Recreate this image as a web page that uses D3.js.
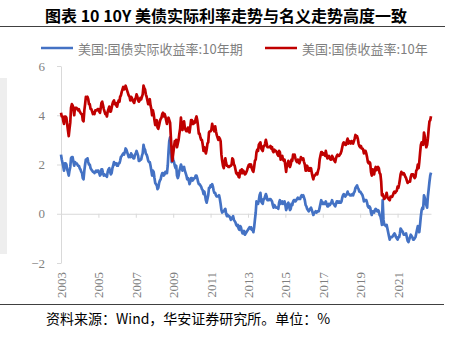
<!DOCTYPE html>
<html>
<head>
<meta charset="utf-8">
<script src="https://cdn.jsdelivr.net/npm/d3@7"></script>
<style>
  html, body { margin: 0; padding: 0; background: #fff; }
  svg { display: block; }
</style>
</head>
<body>
<svg id="chart" width="454" height="340"></svg>
<script>
// US 10Y nominal Treasury yield (%), two readings per month (1st and 16th), Jan 2003 – Oct 2022
const nominal10y = [
  // 2003
  4.10,3.95, 3.95,3.75, 3.65,3.95, 3.95,3.90, 3.65,3.40, 3.15,3.45, 3.70,4.30, 4.45,4.40, 4.25,4.00, 4.30,4.30, 4.30,4.25, 4.20,4.25,
  // 2004
  4.15,4.10, 4.05,4.05, 3.80,3.75, 4.20,4.45, 4.75,4.70, 4.75,4.65, 4.45,4.45, 4.25,4.25, 4.15,4.05, 4.10,4.05, 4.20,4.20, 4.20,4.25,
  // 2005
  4.25,4.15, 4.10,4.30, 4.50,4.55, 4.40,4.25, 4.15,4.05, 4.05,3.95, 4.15,4.25, 4.35,4.15, 4.15,4.30, 4.45,4.55, 4.60,4.45, 4.50,4.40,
  // 2006
  4.35,4.50, 4.60,4.55, 4.75,4.80, 4.95,5.05, 5.15,5.05, 5.10,5.20, 5.10,5.00, 4.90,4.80, 4.75,4.60, 4.75,4.70, 4.60,4.55, 4.50,4.65,
  // 2007
  4.70,4.85, 4.75,4.60, 4.55,4.60, 4.70,4.65, 4.75,4.85, 5.20,5.10, 5.05,4.85, 4.75,4.60, 4.45,4.60, 4.65,4.40, 4.25,4.00, 4.20,4.05,
  // 2008
  3.80,3.60, 3.70,3.80, 3.50,3.45, 3.60,3.75, 3.85,3.90, 4.05,4.10, 3.95,4.05, 3.95,3.80, 3.65,3.80, 3.90,3.80, 3.70,3.10, 2.60,2.15,
  // 2009
  2.45,2.70, 2.95,2.85, 3.00,2.70, 2.85,3.00, 3.25,3.45, 3.90,3.60, 3.40,3.65, 3.75,3.50, 3.40,3.35, 3.35,3.50, 3.40,3.30, 3.55,3.80,
  // 2010
  3.80,3.65, 3.65,3.75, 3.70,3.85, 3.95,3.80, 3.55,3.25, 3.25,3.10, 3.00,3.00, 2.80,2.55, 2.70,2.55, 2.45,2.60, 2.85,2.90, 3.30,3.35,
  // 2011
  3.35,3.40, 3.65,3.50, 3.45,3.35, 3.55,3.35, 3.20,3.10, 3.00,3.10, 3.05,2.95, 2.40,2.15, 1.95,1.85, 2.10,2.25, 2.05,1.95, 1.95,1.90,
  // 2012
  1.90,1.95, 1.95,2.00, 2.25,2.20, 2.00,1.95, 1.80,1.65, 1.60,1.65, 1.50,1.48, 1.75,1.65, 1.80,1.65, 1.75,1.70, 1.60,1.62, 1.70,1.78,
  // 2013
  1.90,1.98, 2.00,1.90, 2.00,1.85, 1.75,1.70, 1.90,2.15, 2.20,2.50, 2.60,2.55, 2.80,2.85, 2.90,2.65, 2.60,2.55, 2.75,2.75, 2.85,3.00,
  // 2014
  2.85,2.70, 2.70,2.70, 2.70,2.75, 2.65,2.70, 2.55,2.50, 2.60,2.55, 2.55,2.50, 2.40,2.35, 2.55,2.50, 2.20,2.30, 2.35,2.20, 2.15,2.20,
  // 2015
  1.95,1.70, 2.00,2.05, 2.15,1.95, 1.90,2.00, 2.20,2.15, 2.40,2.35, 2.40,2.25, 2.15,2.10, 2.20,2.10, 2.05,2.15, 2.30,2.25, 2.20,2.25,
  // 2016
  2.10,2.00, 1.75,1.75, 1.95,1.85, 1.75,1.85, 1.75,1.85, 1.65,1.50, 1.40,1.55, 1.55,1.60, 1.65,1.60, 1.75,1.85, 2.20,2.35, 2.50,2.50,
  // 2017
  2.40,2.45, 2.40,2.35, 2.55,2.40, 2.25,2.30, 2.35,2.25, 2.20,2.20, 2.35,2.30, 2.20,2.15, 2.10,2.25, 2.35,2.40, 2.35,2.35, 2.40,2.45,
  // 2018
  2.55,2.70, 2.85,2.90, 2.85,2.80, 2.80,2.95, 3.05,2.85, 2.95,2.88, 2.85,2.95, 2.90,2.85, 2.95,3.05, 3.20,3.10, 3.15,3.05, 2.85,2.75,
  // 2019
  2.70,2.75, 2.65,2.65, 2.60,2.45, 2.55,2.55, 2.45,2.30, 2.10,2.05, 2.10,2.05, 1.70,1.55, 1.80,1.70, 1.60,1.80, 1.90,1.77, 1.85,1.90,
  // 2020
  1.85,1.65, 1.60,1.30, 0.75,0.80, 0.70,0.60, 0.65,0.68, 0.85,0.68, 0.62,0.58, 0.55,0.70, 0.68,0.68, 0.75,0.85, 0.90,0.85, 0.90,0.93,
  // 2021
  1.10,1.05, 1.20,1.40, 1.60,1.70, 1.65,1.60, 1.65,1.60, 1.50,1.45, 1.35,1.25, 1.30,1.30, 1.30,1.50, 1.60,1.60, 1.60,1.50, 1.45,1.50,
  // 2022 (to mid-October)
  1.75,1.80, 2.00,1.85, 2.10,2.45, 2.80,2.90, 2.90,2.80, 3.30,3.15, 2.95,2.70, 2.80,3.05, 3.45,3.75, 3.80,3.96
];

// US 10Y real (TIPS) yield (%), same dates
const real10y = [
  // 2003
  2.40,2.20, 2.05,1.90, 1.75,2.05, 2.05,2.00, 1.80,1.70, 1.55,1.75, 1.90,2.25, 2.30,2.30, 2.10,1.95, 2.10,2.05, 2.05,2.00, 1.95,1.95,
  // 2004
  1.85,1.80, 1.70,1.65, 1.45,1.40, 1.75,2.00, 2.20,2.15, 2.25,2.10, 2.00,2.00, 1.85,1.80, 1.75,1.70, 1.70,1.65, 1.70,1.75, 1.70,1.75,
  // 2005
  1.75,1.65, 1.55,1.60, 1.80,1.80, 1.65,1.55, 1.60,1.55, 1.55,1.50, 1.70,1.80, 1.85,1.70, 1.60,1.65, 1.85,1.95, 2.10,2.00, 2.05,2.05,
  // 2006
  1.95,1.95, 2.05,2.05, 2.15,2.30, 2.35,2.40, 2.45,2.40, 2.50,2.65, 2.60,2.50, 2.40,2.30, 2.35,2.30, 2.45,2.40, 2.30,2.25, 2.25,2.40,
  // 2007
  2.45,2.55, 2.45,2.35, 2.15,2.15, 2.20,2.20, 2.35,2.45, 2.80,2.65, 2.60,2.45, 2.40,2.30, 2.15,2.10, 2.10,1.95, 1.75,1.55, 1.75,1.70,
  // 2008
  1.45,1.25, 1.20,1.15, 1.00,1.05, 1.25,1.35, 1.40,1.55, 1.65,1.65, 1.55,1.60, 1.70,1.65, 1.65,1.95, 2.50,2.95, 3.10,2.70, 2.10,2.35,
  // 2009
  2.20,2.10, 1.95,1.85, 1.95,1.55, 1.45,1.55, 1.75,1.85, 2.00,1.90, 1.75,1.85, 1.90,1.75, 1.65,1.55, 1.40,1.45, 1.35,1.20, 1.30,1.45,
  // 2010
  1.45,1.35, 1.40,1.45, 1.45,1.55, 1.55,1.45, 1.30,1.20, 1.20,1.15, 1.10,1.00, 0.95,0.80, 0.90,0.75, 0.55,0.45, 0.60,0.75, 1.05,1.05,
  // 2011
  1.15,1.10, 1.20,1.10, 0.95,0.85, 0.85,0.75, 0.70,0.70, 0.70,0.75, 0.60,0.40, 0.15,0.05, 0.10,0.10, 0.15,0.20, 0.00,-0.10, -0.05,-0.10,
  // 2012
  -0.10,-0.15, -0.25,-0.20, -0.15,-0.10, -0.25,-0.30, -0.35,-0.45, -0.50,-0.45, -0.60,-0.65, -0.50,-0.55, -0.70,-0.80, -0.80,-0.70, -0.85,-0.80, -0.75,-0.70,
  // 2013
  -0.65,-0.60, -0.55,-0.60, -0.55,-0.65, -0.65,-0.75, -0.55,-0.25, 0.05,0.50, 0.45,0.40, 0.55,0.75, 0.85,0.50, 0.45,0.40, 0.60,0.60, 0.70,0.80,
  // 2014
  0.70,0.55, 0.55,0.55, 0.60,0.60, 0.55,0.50, 0.35,0.25, 0.35,0.30, 0.25,0.25, 0.25,0.20, 0.45,0.55, 0.40,0.45, 0.50,0.40, 0.45,0.50,
  // 2015
  0.35,0.15, 0.25,0.40, 0.45,0.30, 0.15,0.20, 0.40,0.35, 0.50,0.55, 0.55,0.50, 0.55,0.60, 0.65,0.60, 0.60,0.60, 0.70,0.75, 0.70,0.75,
  // 2016
  0.65,0.55, 0.35,0.30, 0.20,0.15, 0.10,0.15, 0.20,0.25, 0.15,0.05, -0.05,0.05, 0.05,0.10, 0.05,0.10, 0.10,0.10, 0.25,0.40, 0.55,0.45,
  // 2017
  0.40,0.45, 0.40,0.40, 0.50,0.40, 0.30,0.30, 0.40,0.35, 0.40,0.45, 0.55,0.45, 0.40,0.35, 0.30,0.40, 0.50,0.50, 0.45,0.50, 0.45,0.45,
  // 2018
  0.50,0.65, 0.75,0.80, 0.75,0.70, 0.75,0.80, 0.90,0.80, 0.80,0.75, 0.75,0.75, 0.80,0.75, 0.85,0.90, 1.05,1.10, 1.15,1.05, 1.00,0.90,
  // 2019
  0.90,0.85, 0.80,0.75, 0.65,0.50, 0.55,0.55, 0.55,0.45, 0.30,0.25, 0.30,0.25, 0.05,-0.05, 0.10,0.10, 0.05,0.15, 0.20,0.15, 0.10,0.15,
  // 2020
  0.10,-0.05, -0.10,-0.25, -0.45,0.55, -0.25,-0.45, -0.45,-0.50, -0.45,-0.60, -0.75,-0.90, -1.05,-0.95, -0.95,-0.95, -0.90,-0.85, -0.80,-0.85, -0.95,-1.00,
  // 2021
  -1.05,-0.95, -0.95,-0.80, -0.60,-0.65, -0.70,-0.75, -0.85,-0.85, -0.85,-0.80, -0.95,-1.10, -1.15,-1.05, -0.95,-0.85, -0.90,-0.95, -1.05,-1.05, -1.00,-0.95,
  // 2022 (to mid-October)
  -0.80,-0.65, -0.50,-0.55, -0.75,-0.45, -0.10,0.15, 0.25,0.20, 0.75,0.65, 0.50,0.35, 0.25,0.70, 1.00,1.30, 1.55,1.67
];

const seriesNames = ["美国:国债实际收益率:10年期", "美国:国债收益率:10年"];
const seriesColors = ["#4472C4", "#C00000"];
const yTickValues = [-2, 0, 2, 4, 6];
const xTickYears = [2003, 2005, 2007, 2009, 2011, 2013, 2015, 2017, 2019, 2021];
const titleText = "图表 10 10Y 美债实际利率走势与名义走势高度一致";
const sourceText = "资料来源：Wind，华安证券研究所。单位：%";

// Each reading sits on the 1st or 16th of its month
const dateAt = i => new Date(2003 + Math.floor(i / 24), Math.floor(i / 2) % 12, i % 2 ? 16 : 1);

const svg = d3.select("#chart");
const cjk = "'Noto Sans CJK SC', 'Noto Sans', sans-serif";
const serif = "'Liberation Serif', 'DejaVu Serif', serif";

// Title and rule beneath it
svg.append("text")
  .attr("x", 45).attr("y", 15)
  .attr("dominant-baseline", "central")
  .style("font-family", cjk).style("font-weight", 700).style("font-size", "16px")
  .style("fill", "#000")
  .text(titleText);
svg.append("line").attr("x1", 0).attr("x2", 445).attr("y1", 26.5).attr("y2", 26.5)
  .attr("stroke", "#404040").attr("stroke-width", 1);

// Light band on the left edge
svg.append("rect").attr("x", 0).attr("y", 78).attr("width", 7).attr("height", 176).attr("fill", "#eeeeee");

// Scales
const n = real10y.length;
const x = d3.scaleTime().domain([dateAt(0), dateAt(n - 1)]).range([61, 431]);
const y = d3.scaleLinear().domain([-2, 6]).range([263, 66]);

// Y axis
const yAxis = svg.append("g").attr("transform", "translate(61,0)")
  .call(d3.axisLeft(y).tickValues(yTickValues).tickSize(4).tickSizeOuter(0).tickPadding(12).tickFormat(d3.format("d")));
yAxis.select(".domain").attr("stroke", "#d9d9d9");
yAxis.selectAll(".tick line").attr("stroke", "#d9d9d9");
yAxis.selectAll(".tick text").style("font-family", serif).style("font-size", "13px").attr("fill", "#7f7f7f");

// X axis on the zero line, labels rotated at the bottom of the plot
const xAxis = svg.append("g").attr("transform", `translate(0,${y(0)})`)
  .call(d3.axisBottom(x).tickValues(xTickYears.map(yr => new Date(yr, 0, 1))).tickSize(4).tickSizeOuter(0).tickFormat(d3.timeFormat("%Y")));
xAxis.select(".domain").attr("stroke", "#d9d9d9");
xAxis.selectAll(".tick line").attr("stroke", "#d9d9d9");
xAxis.selectAll(".tick text")
  .attr("x", 0).attr("y", 0).attr("dy", "0.35em")
  .attr("transform", `translate(0,${272 - y(0)}) rotate(-90)`)
  .style("text-anchor", "end")
  .style("font-family", serif).style("font-size", "13px").attr("fill", "#7f7f7f");

// Lines
const line = d3.line().x((d, i) => x(dateAt(i))).y(d => y(d));
[real10y, nominal10y].forEach((vals, k) => {
  svg.append("path").datum(vals)
    .attr("d", line)
    .attr("fill", "none")
    .attr("stroke", seriesColors[k])
    .attr("stroke-width", 2.7)
    .attr("stroke-linejoin", "round");
});

// Legend
const legendX = [41, 265];
seriesNames.forEach((name, k) => {
  const g = svg.append("g").attr("transform", `translate(${legendX[k]},48)`);
  g.append("line").attr("x1", 0).attr("x2", 32).attr("y1", 0).attr("y2", 0)
    .attr("stroke", seriesColors[k]).attr("stroke-width", 2.5);
  g.append("text").attr("x", 37).attr("y", 0).attr("dominant-baseline", "central")
    .style("font-family", cjk).style("font-size", "13px").attr("fill", "#7f7f7f")
    .text(name);
});

// Source note and rule above it
svg.append("line").attr("x1", 0).attr("x2", 444).attr("y1", 304.5).attr("y2", 304.5)
  .attr("stroke", "#404040").attr("stroke-width", 1);
svg.append("text")
  .attr("x", 46).attr("y", 318).attr("dominant-baseline", "central")
  .style("font-family", cjk).style("font-size", "14px").attr("fill", "#000")
  .text(sourceText);
</script>
</body>
</html>
